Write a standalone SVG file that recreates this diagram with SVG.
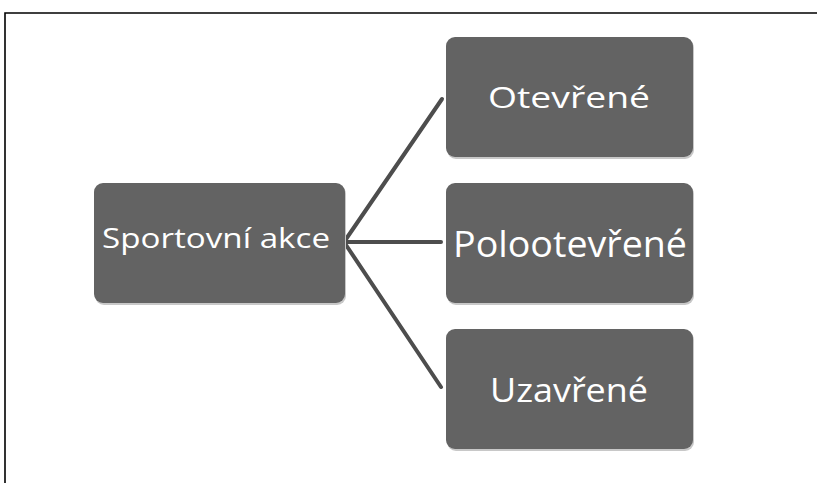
<svg xmlns="http://www.w3.org/2000/svg" width="817" height="483" viewBox="0 0 817 483">
<style>
.box{fill:#636363;}
.shadow{fill:#c8c8c8;}
.lbl{fill:#ffffff;font-family:"Open Sans","Liberation Sans",sans-serif;text-anchor:middle;}
.conn{stroke:#4d4d4d;stroke-width:4;stroke-linecap:round;fill:none;}
</style>
<rect x="0" y="0" width="817" height="483" fill="#ffffff"/>
<path d="M5,490 V13 H830" fill="none" stroke="#000000" stroke-width="1.6"/>
<g id="connectors">
<line class="conn" x1="344" y1="242" x2="442" y2="99"/>
<line class="conn" x1="344" y1="242" x2="441" y2="242"/>
<line class="conn" x1="344" y1="242" x2="441" y2="387"/>
</g>
<g id="node-sportovni">
<rect class="shadow" x="95" y="185" width="251" height="120" rx="9"/>
<rect class="box" x="94" y="183" width="251" height="120" rx="9"/>
<text class="lbl" x="216" y="248" font-size="28" textLength="228" lengthAdjust="spacingAndGlyphs">Sportovní akce</text>
</g>
<g id="node-otevrene">
<rect class="shadow" x="447" y="39" width="247" height="120" rx="9"/>
<rect class="box" x="446" y="37" width="247" height="120" rx="9"/>
<text class="lbl" x="569" y="108" font-size="30" textLength="162" lengthAdjust="spacingAndGlyphs">Otevřené</text>
</g>
<g id="node-poloot">
<rect class="shadow" x="447" y="185" width="247" height="120" rx="9"/>
<rect class="box" x="446" y="183" width="247" height="120" rx="9"/>
<text class="lbl" x="570" y="257" font-size="36" textLength="234" lengthAdjust="spacingAndGlyphs">Polootevřené</text>
</g>
<g id="node-uzavrene">
<rect class="shadow" x="447" y="331" width="247" height="120" rx="9"/>
<rect class="box" x="446" y="329" width="247" height="120" rx="9"/>
<text class="lbl" x="569" y="402" font-size="33" textLength="158" lengthAdjust="spacingAndGlyphs">Uzavřené</text>
</g>
</svg>
